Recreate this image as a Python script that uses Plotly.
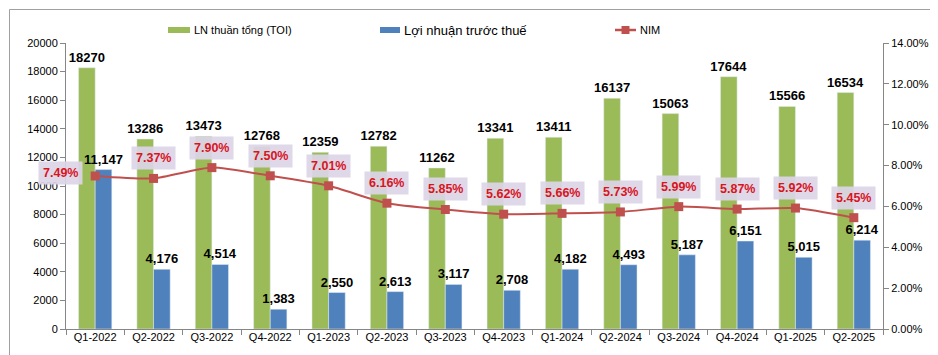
import plotly.graph_objects as go

categories = ["Q1-2022", "Q2-2022", "Q3-2022", "Q4-2022", "Q1-2023", "Q2-2023", "Q3-2023",
              "Q4-2023", "Q1-2024", "Q2-2024", "Q3-2024", "Q4-2024", "Q1-2025", "Q2-2025"]
toi = [18270, 13286, 13473, 12768, 12359, 12782, 11262, 13341, 13411, 16137, 15063, 17644, 15566, 16534]
pbt = [11147, 4176, 4514, 1383, 2550, 2613, 3117, 2708, 4182, 4493, 5187, 6151, 5015, 6214]
nim = [7.49, 7.37, 7.90, 7.50, 7.01, 6.16, 5.85, 5.62, 5.66, 5.73, 5.99, 5.87, 5.92, 5.45]

left_ticks = list(range(0, 20001, 2000))
right_ticks = [0, 2, 4, 6, 8, 10, 12, 14]

GREEN = "#9BBB59"
BLUE = "#4F81BD"
RED = "#C0504D"
FONT = "Liberation Sans"

fig = go.Figure()
fig.add_trace(go.Bar(
    x=categories, y=toi, name="LN thuần tổng (TOI)", marker_color=GREEN,
    text=[str(v) for v in toi], texttemplate="%{text}", textposition="outside",
    textfont=dict(family=FONT, size=13, color="#000000", weight="bold"),
    constraintext="none", cliponaxis=False, showlegend=False,
))
fig.add_trace(go.Bar(
    x=categories, y=pbt, name="Lợi nhuận trước thuế", marker_color=BLUE,
    text=[f"{v:,}" for v in pbt], texttemplate="%{text}", textposition="outside",
    textfont=dict(family=FONT, size=13, color="#000000", weight="bold"),
    constraintext="none", cliponaxis=False, showlegend=False,
))
fig.add_trace(go.Scatter(
    x=categories, y=nim, name="NIM", yaxis="y2", mode="lines+markers",
    line=dict(color=RED, width=2, shape="spline", smoothing=0.6),
    marker=dict(symbol="square", size=9, color=RED),
    showlegend=False, cliponaxis=False,
))

annotations = []
for i, (c, v) in enumerate(zip(categories, nim)):
    annotations.append(dict(
        x=c, y=v, xref="x", yref="y2", text=f"<b>{v:.2f}%</b>", showarrow=False,
        font=dict(family=FONT, size=12.5, color="#D9141E"),
        bgcolor="rgba(220,213,231,0.92)", borderpad=4,
        xshift=-35 if i == 0 else 0, yshift=3 if i == 0 else 20,
    ))

W, H = 938, 355
L, R, T, B = 58, 63, 35, 34
pw, ph = W - L - R, H - T - B
def px(x):
    return (x - L) / pw
def py(y):
    return (H - B - y) / ph

# custom legend
legend_items = [
    (160, 182, GREEN, "LN thuần tổng (TOI)", 11, 184, "rect"),
    (372, 392, BLUE, "Lợi nhuận trước thuế", 13, 394, "rect"),
    (607, 628, RED, "NIM", 11, 630, "line"),
]
shapes = []
for x0, x1, col, label, fs, tx, kind in legend_items:
    if kind == "rect":
        shapes.append(dict(type="rect", xref="paper", yref="paper", x0=px(x0), x1=px(x1),
                           y0=py(25), y1=py(19), fillcolor=col, line=dict(width=0)))
    else:
        shapes.append(dict(type="line", xref="paper", yref="paper", x0=px(x0), x1=px(x1),
                           y0=py(22), y1=py(22), line=dict(color=col, width=2.5)))
        shapes.append(dict(type="rect", xref="paper", yref="paper", x0=px(613.5), x1=px(621.5),
                           y0=py(26), y1=py(18), fillcolor=col, line=dict(width=0)))
    annotations.append(dict(x=px(tx), y=py(22), xref="paper", yref="paper", text=label,
                            showarrow=False, xanchor="left", yanchor="middle",
                            font=dict(family=FONT, size=fs, color="#000000")))

# outer border
shapes.append(dict(type="rect", xref="paper", yref="paper", x0=px(1.5), x1=px(933),
                   y0=py(348), y1=py(1.5), line=dict(color="#A0A0A0", width=1),
                   fillcolor="rgba(0,0,0,0)"))

fig.update_layout(
    width=W, height=H, margin=dict(l=L, r=R, t=T, b=B),
    paper_bgcolor="white", plot_bgcolor="white",
    barmode="group", bargap=0.43, bargroupgap=0,
    font=dict(family=FONT, size=11, color="#000000"),
    xaxis=dict(type="category", range=[-0.5, len(categories) - 0.5], autorange=False,
               showgrid=False, showline=True, linecolor="#868686",
               ticks="outside", tickson="boundaries", ticklen=5, tickcolor="#868686",
               ticklabelstandoff=-2,
               tickfont=dict(family=FONT, size=11, color="#000000")),
    yaxis=dict(range=[0, 20000], autorange=False, tickvals=left_ticks,
               ticktext=[str(t) for t in left_ticks],
               showgrid=False, zeroline=False, showline=True, linecolor="#868686",
               ticks="outside", ticklen=5, tickcolor="#868686",
               tickfont=dict(family=FONT, size=11, color="#000000")),
    yaxis2=dict(range=[0, 14], autorange=False, overlaying="y", side="right",
                tickvals=right_ticks, ticktext=[f"{t:.2f}%" for t in right_ticks],
                showgrid=False, zeroline=False, showline=True, linecolor="#868686",
                ticks="outside", ticklen=5, tickcolor="#868686",
                tickfont=dict(family=FONT, size=11, color="#000000")),
    annotations=annotations, shapes=shapes, showlegend=False,
)

fig.write_html("out.html")
